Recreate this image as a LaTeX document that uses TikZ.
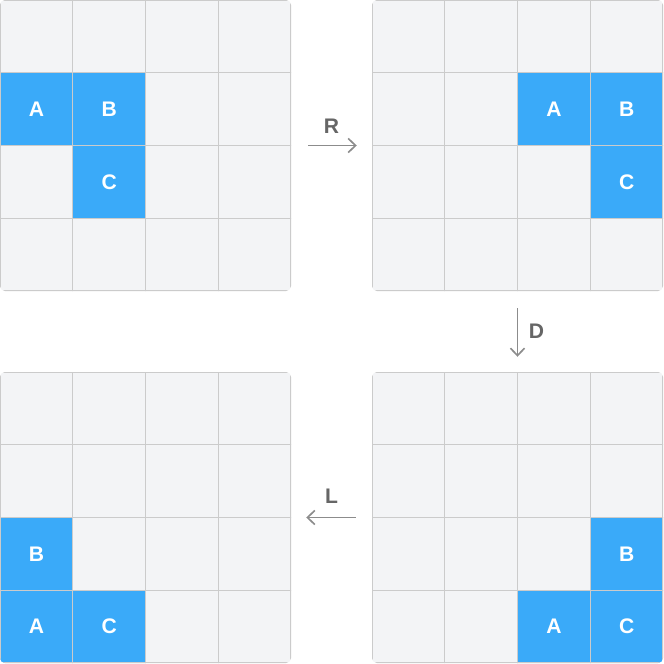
\documentclass[tikz,border=0pt]{standalone}
\usepackage{fontspec}
\setmainfont{Liberation Sans}
\usetikzlibrary{arrows.meta,positioning}
\definecolor{cellbg}{HTML}{F3F4F6}
\definecolor{gridline}{HTML}{CBCBCB}
\definecolor{tileblue}{HTML}{3AAAF9}
\definecolor{movegray}{HTML}{8C8C8C}
\definecolor{labelgray}{HTML}{666666}
\tikzset{
  cell/.style={draw=gridline,fill=cellbg,line width=.04cm,inner sep=0,minimum size=2.1825cm},
  tile/.style={cell,fill=tileblue,text=white,font=\fontsize{18}{20}\selectfont\bfseries},
  frame/.style={inner sep=0,minimum size=8.73cm},
  move/.style={draw=movegray,line width=.05cm,-{Straight Barb[length=.22cm,width=.42cm]}},
  movelabel/.style={text=labelgray,font=\fontsize{18}{20}\selectfont\bfseries}
}
% board: name, left, top, tiles row/col/letter
\newcommand{\board}[4]{%
  \begin{scope}
    \clip[rounded corners=.15cm] (#2,#3) rectangle ++(291,291);
    \foreach \row in {0,...,3}
      \foreach \col in {0,...,3}
        \node[cell] (#1-\row-\col) at ({#2+(\col+.5)*72.75},{#3+(\row+.5)*72.75}) {};
    \foreach \row/\col/\tl in {#4}
      \node[tile] (#1-\tl) at (#1-\row-\col) {\tl};
  \end{scope}
  \node[frame] (#1) at ({#2+145.5},{#3+145.5}) {};
}

\begin{document}
\begin{tikzpicture}[x=.03cm,y=-.03cm]
\useasboundingbox (0,0) rectangle (664,664);
\board{start}{0}{0}{1/0/A,1/1/B,2/1/C}
\board{afterR}{372}{0}{1/2/A,1/3/B,2/3/C}
\board{afterD}{372}{372}{2/3/B,3/2/A,3/3/C}
\board{afterL}{0}{372}{2/0/B,3/0/A,3/1/C}
% moves
\draw[move,shorten <=.51cm,shorten >=.45cm] (start.east) --
      node[movelabel,midway,yshift=.57cm]{R} (afterR.west);
\draw[move,shorten <=.51cm,shorten >=.45cm] (afterR.south) --
      node[movelabel,midway,xshift=.57cm]{D} (afterD.north);
\draw[move,shorten <=.48cm,shorten >=.45cm] (afterD.west) --
      node[movelabel,midway,yshift=.63cm]{L} (afterL.east);
\end{tikzpicture}
\end{document}
